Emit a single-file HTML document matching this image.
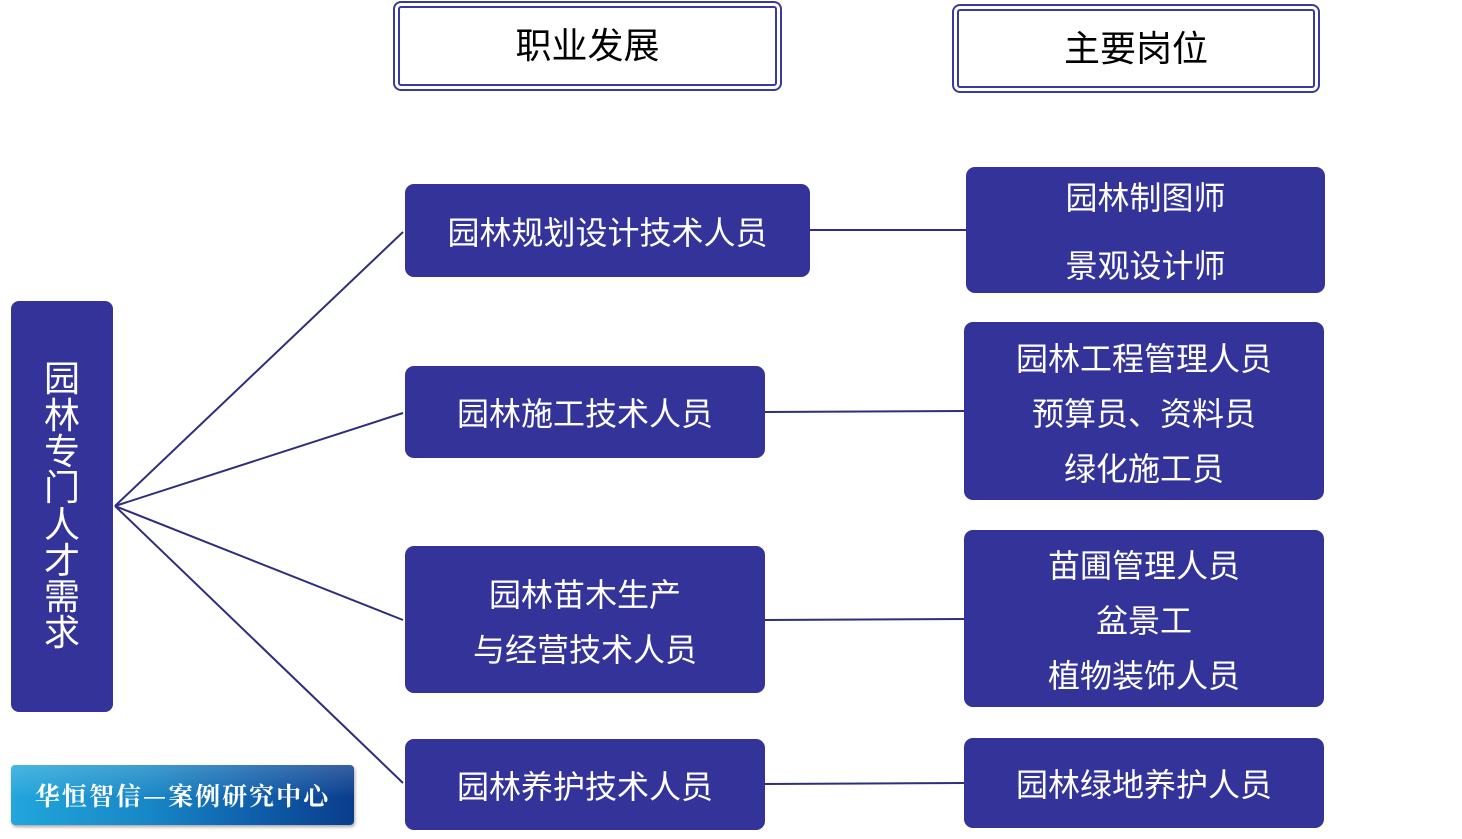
<!DOCTYPE html>
<html>
<head>
<meta charset="utf-8">
<style>
  html,body{margin:0;padding:0;background:#fff;}
  body{width:1462px;height:839px;position:relative;overflow:hidden;
    font-family:"Liberation Sans","Noto Sans CJK SC",sans-serif;}
  .box{position:absolute;background:#333399;border-radius:9px;color:#fff;
    display:flex;flex-direction:column;align-items:center;justify-content:center;
    font-size:32px;text-align:center;}
  .box span{display:block;white-space:nowrap;}
  .box.m span{position:relative;top:3px;}
  .hdr{position:absolute;box-sizing:border-box;border:2px solid #3a3a9a;border-radius:8px;background:#fff;}
  .hdr .inner{position:absolute;left:3px;top:3px;right:3px;bottom:3px;border:2px solid #3a3a9a;border-radius:3px;
    display:flex;align-items:center;justify-content:center;font-size:36px;color:#000;}
  .hdr .inner span{position:relative;top:-3px;}
  .vert{position:absolute;left:11px;top:301px;width:102px;height:411px;background:#333399;border-radius:8px;
    color:#fff;font-size:36px;line-height:36.3px;text-align:center;display:flex;flex-direction:column;align-items:center;justify-content:center;}
  .logo{position:absolute;left:11px;top:765px;width:343px;height:60px;border-radius:4px;
    background:linear-gradient(90deg,#22a6dc 0%,#1787c6 40%,#0e5aa6 75%,#0a3c8c 100%);
    box-shadow:1px 2px 3px rgba(0,0,0,0.35);color:#fff;
    font-family:"Noto Serif CJK SC","Liberation Serif",serif;font-weight:bold;font-size:25px;letter-spacing:2px;
    display:flex;align-items:center;justify-content:center;}
  .logo::before{content:"";position:absolute;left:0;top:0;right:0;height:50%;border-radius:4px 4px 0 0;
    background:linear-gradient(180deg,rgba(255,255,255,0.18),rgba(255,255,255,0.02));}
</style>
</head>
<body>
<svg width="1462" height="839" style="position:absolute;left:0;top:0;" xmlns="http://www.w3.org/2000/svg">
  <g stroke="#2e2e7e" stroke-width="2" fill="none">
    <line x1="115" y1="506" x2="403" y2="232"/>
    <line x1="115" y1="506" x2="403" y2="413"/>
    <line x1="115" y1="506" x2="403" y2="620"/>
    <line x1="115" y1="506" x2="403" y2="783"/>
    <line x1="810" y1="230" x2="966" y2="230"/>
    <line x1="765" y1="412" x2="964" y2="411"/>
    <line x1="765" y1="620" x2="964" y2="619"/>
    <line x1="765" y1="784" x2="964" y2="783"/>
  </g>
</svg>

<div class="hdr" style="left:393px;top:1px;width:389px;height:90px;"><div class="inner"><span>职业发展</span></div></div>
<div class="hdr" style="left:952px;top:4px;width:368px;height:89px;"><div class="inner"><span>主要岗位</span></div></div>

<div class="vert"><span>园</span><span>林</span><span>专</span><span>门</span><span>人</span><span>才</span><span>需</span><span>求</span></div>

<div class="box" style="left:405px;top:184px;width:405px;height:93px;"><span>园林规划设计技术人员</span></div>
<div class="box" style="left:405px;top:366px;width:360px;height:92px;"><span>园林施工技术人员</span></div>
<div class="box m" style="left:405px;top:546px;width:360px;height:147px;line-height:55px;"><span>园林苗木生产</span><span>与经营技术人员</span></div>
<div class="box" style="left:405px;top:739px;width:360px;height:91px;"><span>园林养护技术人员</span></div>

<div class="box m" style="left:966px;top:167px;width:359px;height:126px;line-height:68px;"><span style="top:2px;">园林制图师</span><span style="top:2px;">景观设计师</span></div>
<div class="box m" style="left:964px;top:322px;width:360px;height:178px;line-height:55px;"><span>园林工程管理人员</span><span>预算员、资料员</span><span>绿化施工员</span></div>
<div class="box m" style="left:964px;top:530px;width:360px;height:177px;line-height:55px;"><span>苗圃管理人员</span><span>盆景工</span><span>植物装饰人员</span></div>
<div class="box" style="left:964px;top:738px;width:360px;height:90px;"><span>园林绿地养护人员</span></div>

<div class="logo"><span style="position:relative;">华恒智信—案例研究中心</span></div>
</body>
</html>
